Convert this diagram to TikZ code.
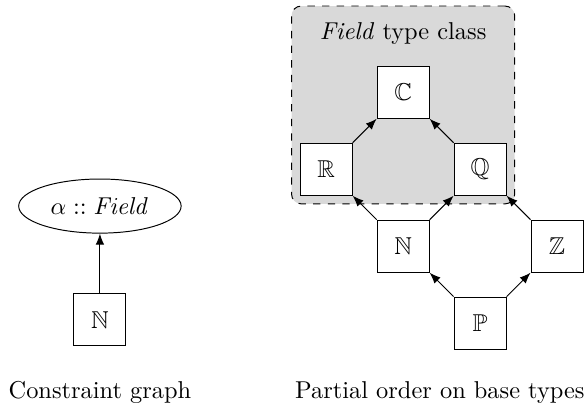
\documentclass[tikz,border=0pt]{standalone}
\usepackage{amssymb}
\usetikzlibrary{positioning,fit,backgrounds,shapes.geometric,arrows.meta}

\begin{document}
\begin{tikzpicture}[
    basety/.style = {draw, minimum size=0.75cm, inner sep=0pt, fill=white},
    subty/.style  = {-{Latex[length=4.5pt,width=3.5pt]}},
    node distance = 0.345cm and 0.345cm]
  \useasboundingbox (0,0) rectangle (8.46,-5.89);

  \node [draw, ellipse, minimum height=0.78cm] (alpha) at (1.44,-2.97) {$\alpha :: \mathit{Field}$};
  \node [basety, below=0.86cm of alpha] (nat0) {$\mathbb{N}$};
  \draw [subty] (nat0) -- (alpha);

  \node [basety] (cpx) at (5.81,-1.33) {$\mathbb{C}$};
  \node [basety, below left=of cpx]  (real) {$\mathbb{R}$};
  \node [basety, below right=of cpx] (rat)  {$\mathbb{Q}$};
  \node [basety, below right=of real] (nat) {$\mathbb{N}$};
  \node [basety, below right=of rat]  (int) {$\mathbb{Z}$};
  \node [basety, below right=of nat]  (pos) {$\mathbb{P}$};
  \node [above=0.18cm of cpx] (title) {\emph{Field} type class};

  \begin{scope}[on background layer]
    \node [draw, dashed, rounded corners, fill=gray!30, fit=(title)(real)(rat)(cpx)] (cls) {};
  \end{scope}

  \draw [subty] (real.north east) -- (cpx.south west);
  \draw [subty] (rat.north west)  -- (cpx.south east);
  \draw [subty] (nat.north west)  -- (real.south east);
  \draw [subty] (nat.north east)  -- (rat.south west);
  \draw [subty] (int.north west)  -- (rat.south east);
  \draw [subty] (pos.north west)  -- (nat.south east);
  \draw [subty] (pos.north east)  -- (int.south west);

  \node (lcap) at (1.44,-5.66) {Constraint graph};
  \node (rcap) at (6.34,-5.66) {Partial order on base types};
\end{tikzpicture}
\end{document}
